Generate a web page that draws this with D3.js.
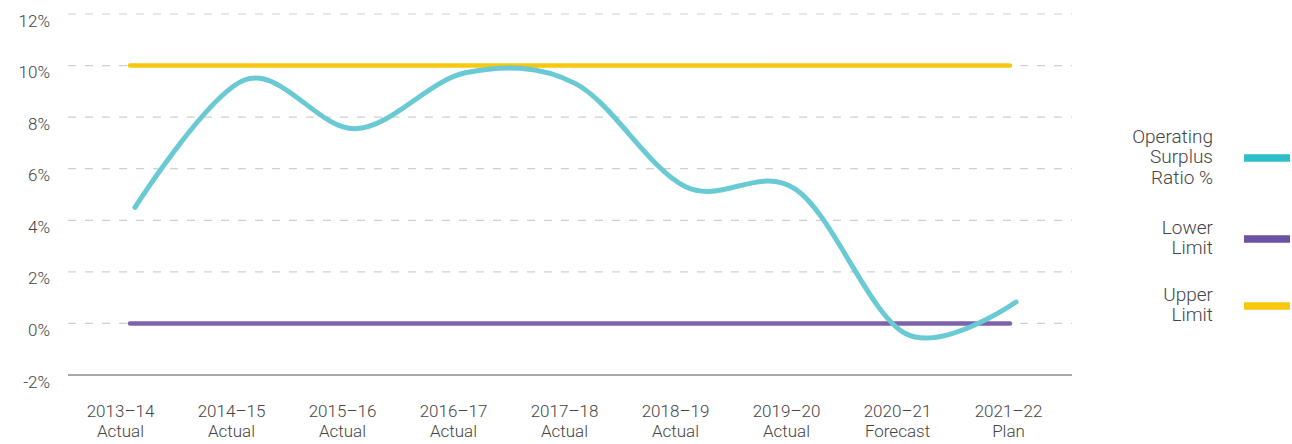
<!DOCTYPE html>
<html>
<head>
<meta charset="utf-8">
<script src="https://cdn.jsdelivr.net/npm/d3@7"></script>
<style>
  html, body { margin: 0; padding: 0; background: #fff; }
  svg { display: block; }
  text { font-family: Roboto, "Liberation Sans", sans-serif; font-weight: 300; fill: #444; }
</style>
</head>
<body>
<svg id="chart" width="1292" height="444"></svg>
<script>
const categories = ["2013\u201314|Actual", "2014\u201315|Actual", "2015\u201316|Actual", "2016\u201317|Actual",
  "2017\u201318|Actual", "2018\u201319|Actual", "2019\u201320|Actual", "2020\u201321|Forecast", "2021\u201322|Plan"];
const operatingSurplus = [4.5, 9.45, 7.55, 9.72, 9.3, 5.3, 5.2, -0.4, 0.83];
const lowerLimit = [0, 0, 0, 0, 0, 0, 0, 0, 0];
const upperLimit = [10, 10, 10, 10, 10, 10, 10, 10, 10];
const yTicks = [-2, 0, 2, 4, 6, 8, 10, 12];
const legendItems = [
  { lines: ["Operating", "Surplus", "Ratio %"], color: "#2DBFC9" },
  { lines: ["Lower", "Limit"], color: "#6B52A2" },
  { lines: ["Upper", "Limit"], color: "#F9C80E" }
];

const svg = d3.select("#chart");
const plotLeft = 68, plotRight = 1072;

const y = d3.scaleLinear().domain([-2, 12]).range([375, 14]);
const xBand = d3.scaleBand().domain(categories).range([65, 1064]);
const xCurve = d3.scalePoint().domain(categories).range([135, 1016]);
const xLimit = d3.scalePoint().domain(categories).range([130, 1010]);

// grid
const gridTicks = yTicks.filter(t => t !== -2);
svg.append("g").selectAll("line").data(gridTicks).join("line")
  .attr("x1", plotLeft).attr("x2", plotRight)
  .attr("y1", d => y(d)).attr("y2", d => y(d))
  .attr("stroke", "#cfcfcf").attr("stroke-width", 1.2)
  .attr("stroke-dasharray", "8,9");

// axis baseline
svg.append("line")
  .attr("x1", plotLeft).attr("x2", plotRight)
  .attr("y1", y(-2)).attr("y2", y(-2))
  .attr("stroke", "#a8a8a8").attr("stroke-width", 2);

// y labels
svg.append("g").selectAll("text").data(yTicks).join("text")
  .attr("x", 50).attr("y", d => y(d) + 12.5)
  .attr("text-anchor", "end")
  .attr("font-size", 17)
  .text(d => d + "%");

// x labels
const xl = svg.append("g").selectAll("text").data(categories).join("text")
  .attr("text-anchor", "middle")
  .attr("font-size", 17);
xl.each(function(d) {
  const parts = d.split("|");
  const cx = xBand(d) + xBand.bandwidth() / 2;
  const t = d3.select(this);
  t.append("tspan").attr("x", cx).attr("y", 417).text(parts[0]);
  t.append("tspan").attr("x", cx).attr("y", 437).text(parts[1]);
});

// limit lines
const limLine = d3.line().x((d, i) => xLimit(categories[i])).y(d => y(d));
svg.append("path").datum(lowerLimit).attr("d", limLine)
  .attr("fill", "none").attr("stroke", "#7B64AC").attr("stroke-width", 4.5).attr("stroke-linecap", "round");
svg.append("path").datum(upperLimit).attr("d", limLine)
  .attr("fill", "none").attr("stroke", "#F9C80E").attr("stroke-width", 4.5).attr("stroke-linecap", "round");

// curve
const curveLine = d3.line().x((d, i) => xCurve(categories[i])).y(d => y(d)).curve(d3.curveCardinal.tension(0));
svg.append("path").datum(operatingSurplus).attr("d", curveLine)
  .attr("fill", "none").attr("stroke", "#6ACAD3").attr("stroke-width", 5).attr("stroke-linecap", "round");

// legend
const legendY = [158, 239, 306];
const lg = svg.append("g");
legendItems.forEach((item, i) => {
  const cy = legendY[i];
  lg.append("rect").attr("x", 1244).attr("y", cy - 3.75).attr("width", 46).attr("height", 7.5)
    .attr("fill", item.color);
  const n = item.lines.length;
  const lh = 20.5;
  const firstBase = cy + 5 - (n - 1) * lh / 2 ;
  const t = lg.append("text").attr("text-anchor", "end").attr("font-size", 19);
  item.lines.forEach((ln, j) => {
    t.append("tspan").attr("x", 1213).attr("y", firstBase + j * lh).text(ln);
  });
});
</script>
</body>
</html>
